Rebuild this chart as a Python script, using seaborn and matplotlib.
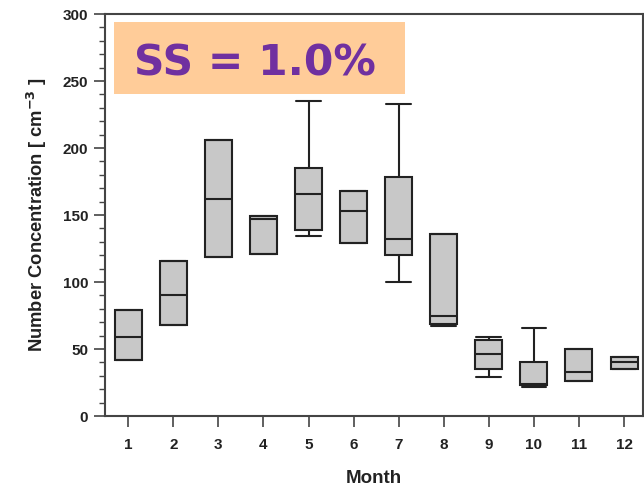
import numpy as np
import pandas as pd
import matplotlib
matplotlib.use("Agg")
import matplotlib.pyplot as plt
from matplotlib.patches import Rectangle
from matplotlib.ticker import MultipleLocator
import seaborn as sns

months = [1, 2, 3, 4, 5, 6, 7, 8, 9, 10, 11, 12]
whisker_low = [42, 68, 119, 121, 134, 129, 100, 67, 29, 22, 26, 35]
q1 = [42, 68, 119, 121, 139, 129, 120, 69, 35, 23, 26, 35]
median = [59, 90, 162, 147, 166, 153, 132, 75, 46, 24, 33, 40]
q3 = [79, 116, 206, 149, 185, 168, 178, 136, 57, 40, 50, 44]
whisker_high = [79, 116, 206, 149, 235, 168, 233, 136, 59, 66, 50, 44]

rows = []
for i, m in enumerate(months):
    for v in (whisker_low[i], q1[i], median[i], q3[i], whisker_high[i]):
        rows.append({"Month": str(m), "value": v})
df = pd.DataFrame(rows)

sns.set_theme(style="ticks")
plt.rcParams["font.family"] = ["Liberation Sans", "DejaVu Sans"]

fig = plt.figure(figsize=(6.44, 4.88), dpi=100)
ax = fig.add_axes([0.163, 0.1475, 0.8354, 0.8238])

sns.boxplot(data=df, x="Month", y="value", order=[str(m) for m in months],
            whis=(0, 100), width=0.6, color="#c8c8c8", linecolor="#222222",
            linewidth=1.5, showfliers=False, saturation=1, ax=ax,
            capwidths=0.55)

ax.set_xlim(-0.517, 11.42)
ax.set_ylim(0, 300)
ax.yaxis.set_major_locator(MultipleLocator(50))
ax.yaxis.set_minor_locator(MultipleLocator(10))
ax.tick_params(axis="y", which="major", direction="out", length=8, width=1.2,
               color="#444444", labelsize=11, pad=4)
ax.tick_params(axis="y", which="minor", direction="out", length=4.5, width=1.0,
               color="#444444")
ax.tick_params(axis="x", which="major", direction="out", length=8, width=1.2,
               color="#444444", labelsize=11, pad=8)
for lab in ax.get_xticklabels() + ax.get_yticklabels():
    lab.set_fontweight("bold")
    lab.set_color("#222222")

for side in ["left", "bottom", "top", "right"]:
    ax.spines[side].set_visible(True)
    ax.spines[side].set_color("#444444")
    ax.spines[side].set_linewidth(1.5)

ax.set_xlabel("Month", fontsize=13.5, fontweight="bold", color="#222222", labelpad=13)
ax.set_ylabel("Number Concentration [ cm$^{\\mathbf{-3}}$ ]", fontsize=13.2,
              fontweight="bold", color="#222222", labelpad=10)

# annotation overlay
W, H = 644, 488
fig.add_artist(Rectangle((114 / W, 1 - 94 / H), (405 - 114) / W, (94 - 22) / H,
                         transform=fig.transFigure, facecolor="#FFCC99",
                         edgecolor="none", zorder=10))
fig.text(134 / W, 1 - 75 / H, "SS = 1.0%", fontsize=30.5, fontweight="bold",
         color="#7030A0", family=["DejaVu Sans"], ha="left", va="baseline",
         zorder=11)

fig.savefig("out.png", dpi=100)
